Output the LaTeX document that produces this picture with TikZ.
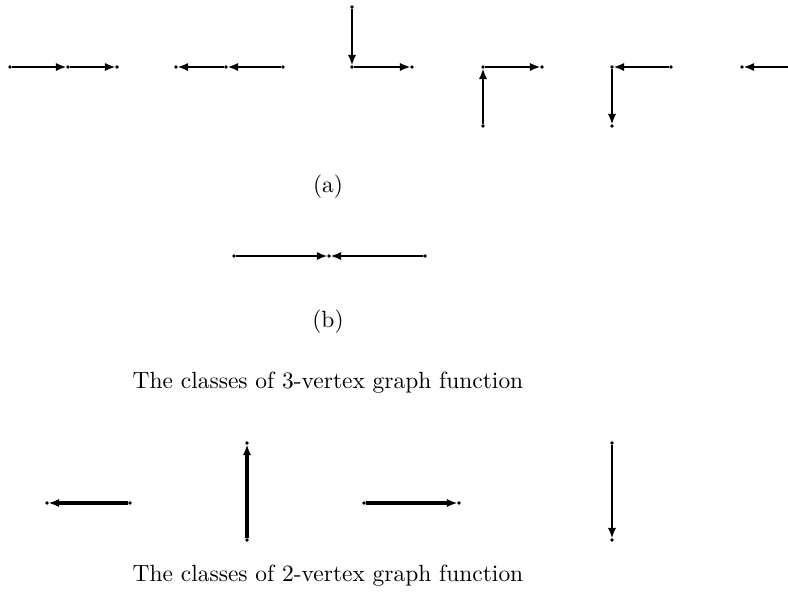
\documentclass[tikz,border=0pt]{standalone}
\usepackage{tikz}
\usetikzlibrary{arrows.meta}

\begin{document}
\begin{tikzpicture}[
  x=0.465pt,y=-0.465pt,
  vtx/.style={circle,fill=black,inner sep=0pt,minimum size=1.8pt},
  edge/.style={-{Latex[length=5pt,width=3.8pt]},line width=1.1pt,shorten >=-0.5pt},
  bigedge/.style={edge,line width=1.5pt},
  caption/.style={font=\fontsize{10.9}{13}\selectfont,inner sep=0pt}
]
\useasboundingbox (0,0) rectangle (788,601);
\clip (0,0) rectangle (788,601);
% (a) 3-vertex graphs
\node[vtx] (a1) at (10,67) {};
\node[vtx] (a2) at (68,67) {};
\node[vtx] (a3) at (117,67) {};
\draw[edge] (a1) -- (a2);
\draw[edge] (a2) -- (a3);
\node[vtx] (b1) at (176,67) {};
\node[vtx] (b2) at (226,67) {};
\node[vtx] (b3) at (283,67) {};
\draw[edge] (b3) -- (b2);
\draw[edge] (b2) -- (b1);
\node[vtx] (c1) at (352,7) {};
\node[vtx] (c2) at (352,67) {};
\node[vtx] (c3) at (412,67) {};
\draw[edge] (c1) -- (c2);
\draw[edge] (c2) -- (c3);
\node[vtx] (d1) at (483,126) {};
\node[vtx] (d2) at (483,67) {};
\node[vtx] (d3) at (542,67) {};
\draw[edge] (d1) -- (d2);
\draw[edge] (d2) -- (d3);
\node[vtx] (e1) at (671,67) {};
\node[vtx] (e2) at (612,67) {};
\node[vtx] (e3) at (612,126) {};
\draw[edge] (e1) -- (e2);
\draw[edge] (e2) -- (e3);
\node[vtx] (f1) at (794,7) {};
\node[vtx] (f2) at (794,67) {};
\node[vtx] (f3) at (742,67) {};
\draw[edge] (f1) -- (f2);
\draw[edge] (f2) -- (f3);
\node[caption] (capa) at (328,187) {(a)};
% (b)
\node[vtx] (g1) at (234,256) {};
\node[vtx] (g2) at (329,256) {};
\node[vtx] (g3) at (425,256) {};
\draw[edge] (g1) -- (g2);
\draw[edge] (g3) -- (g2);
\node[caption] (capb) at (328,322) {(b)};
\node[caption] (cap3) at (328,383) {The classes of 3-vertex graph function};
% 2-vertex graphs
\node[vtx] (h1) at (130,503) {};
\node[vtx] (h2) at (47,503) {};
\draw[bigedge] (h1) -- (h2);
\node[vtx] (i1) at (247,540) {};
\node[vtx] (i2) at (247,443) {};
\draw[bigedge] (i1) -- (i2);
\node[vtx] (j1) at (364,503) {};
\node[vtx] (j2) at (459,503) {};
\draw[bigedge] (j1) -- (j2);
\node[vtx] (k1) at (612,443) {};
\node[vtx] (k2) at (612,540) {};
\draw[edge] (k1) -- (k2);
\node[caption] (cap2) at (328,576) {The classes of 2-vertex graph function};
\end{tikzpicture}
\end{document}
